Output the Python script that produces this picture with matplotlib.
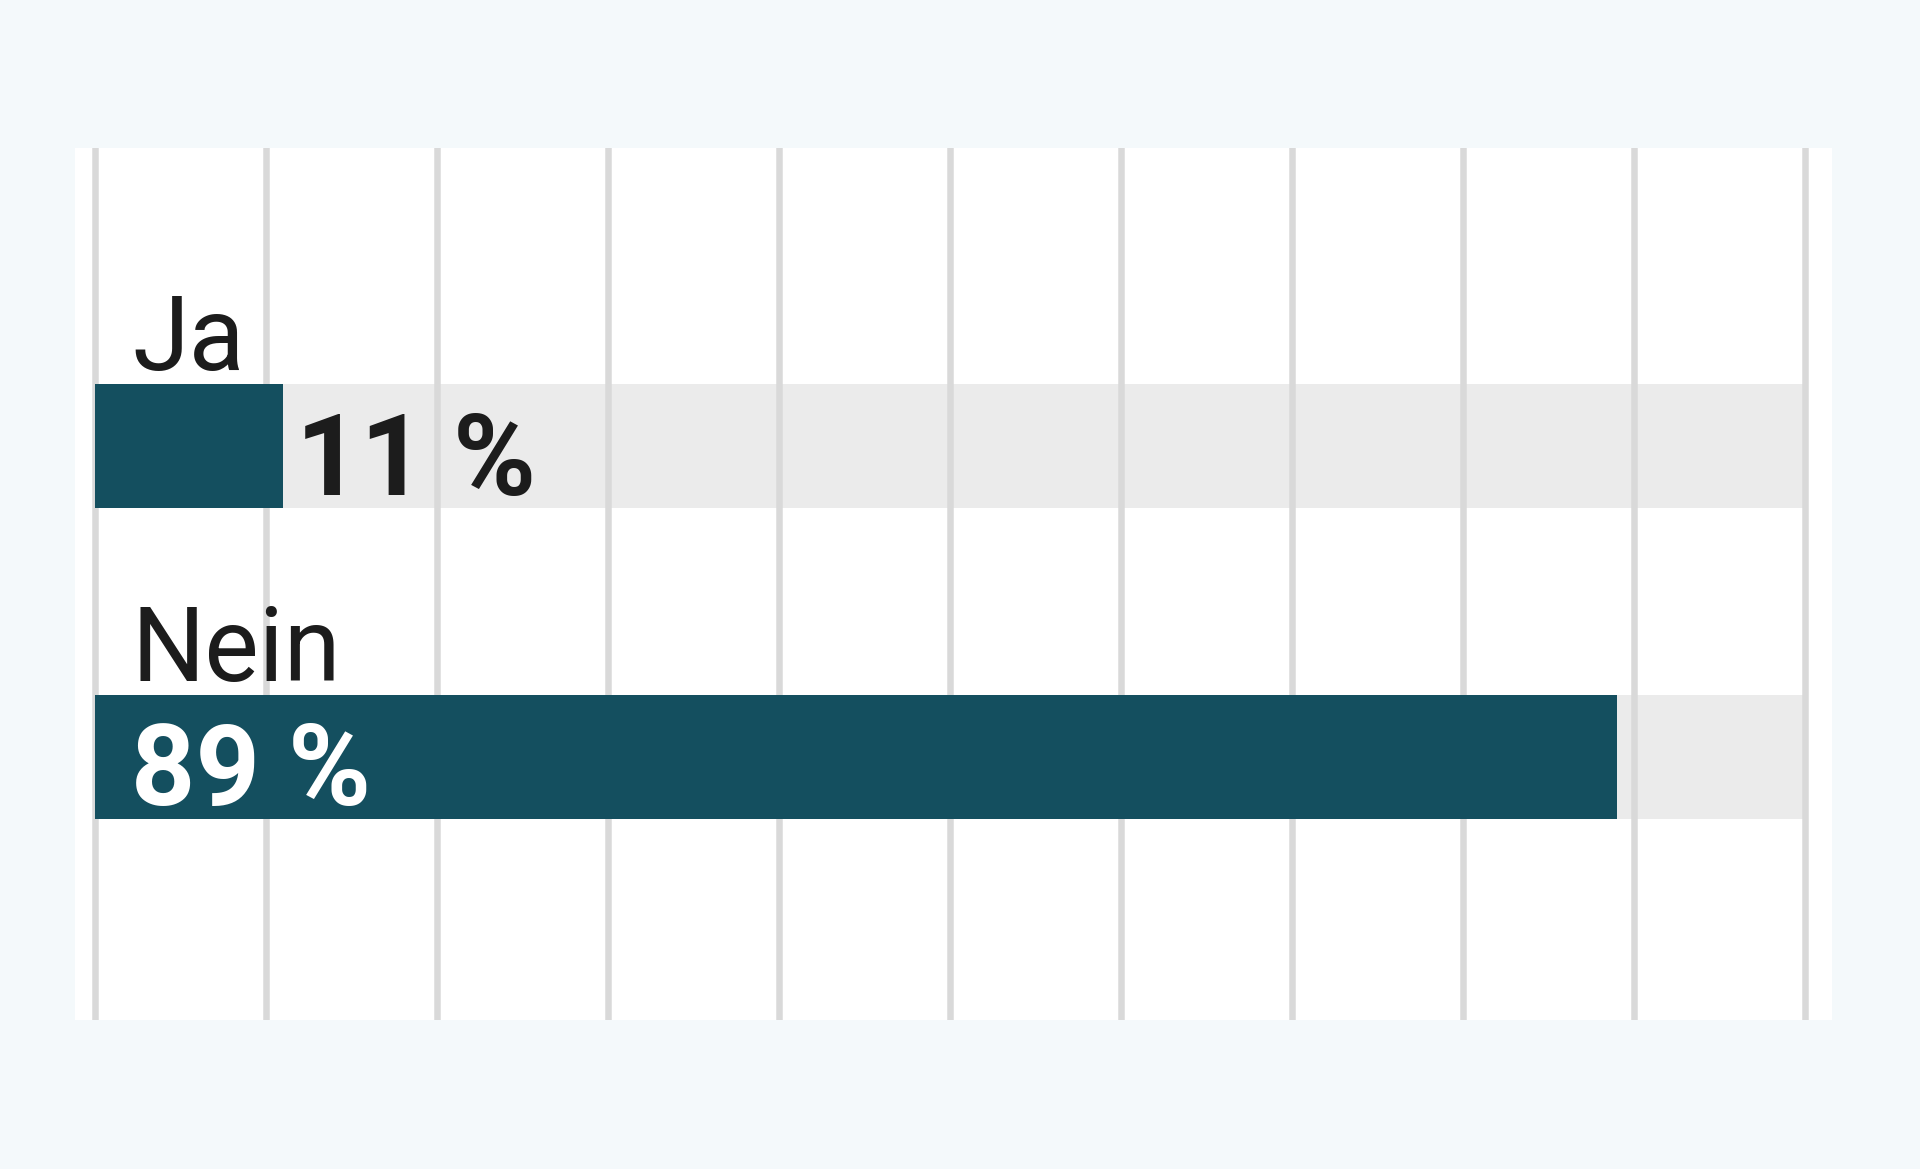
import matplotlib
matplotlib.use("Agg")
import matplotlib.pyplot as plt

categories = ["Ja", "Nein"]
values = [11, 89]
value_labels = ["11 %", "89 %"]
grid_ticks = list(range(0, 101, 10))

W, H, DPI = 1920, 1169, 100
BG = "#f4f9fb"
TEAL = "#144f5f"
TRACK = "#ebebeb"
GRID = "#d9d9d9"
TXT = "#1c1c1c"

fig = plt.figure(figsize=(W / DPI, H / DPI), dpi=DPI, facecolor=BG)

# white panel (pixels)
px_l, px_r, px_t, px_b = 75, 1832, 148, 1020
ax = fig.add_axes([px_l / W, 1 - px_b / H, (px_r - px_l) / W, (px_b - px_t) / H])
ax.set_facecolor("white")
x0, x100 = 95, 1805
ppu = (x100 - x0) / 100
ax.set_xlim(-(x0 - px_l) / ppu, (px_r - x0) / ppu)
c_ja, c_nein = 446, 756.5
sp = c_nein - c_ja
ax.set_ylim(1 + (px_b - c_nein) / sp, -(c_ja - px_t) / sp)
for s in ax.spines.values():
    s.set_visible(False)
ax.set_xticks([])
ax.set_yticks([])

bh = 124 / sp
ys = list(range(len(categories)))
ax.barh(ys, [100] * len(ys), height=bh, color=TRACK, zorder=1, left=0)
for g in grid_ticks:
    ax.axvline(g, color=GRID, lw=6.5 * 72 / DPI, zorder=2)
ax.barh(ys, values, height=bh, color=TEAL, zorder=3)

for i, (cat, v, lab) in enumerate(zip(categories, values, value_labels)):
    ax.annotate(cat, xy=(0, i - bh / 2), xytext=(37, 14), textcoords="offset pixels",
                ha="left", va="baseline", fontsize=74, family="Roboto", color=TXT, zorder=5)
    if v > 20:
        ax.annotate(lab, xy=(0, i + bh / 2), xytext=(36, 13), textcoords="offset pixels",
                    ha="left", va="baseline", fontsize=81, family="Roboto", fontweight="bold",
                    color="white", zorder=5)
    else:
        ax.annotate(lab, xy=(v, i + bh / 2), xytext=(13, 13), textcoords="offset pixels",
                    ha="left", va="baseline", fontsize=81, family="Roboto", fontweight="bold",
                    color=TXT, zorder=5)

fig.savefig("out.png", dpi=DPI, facecolor=BG)
